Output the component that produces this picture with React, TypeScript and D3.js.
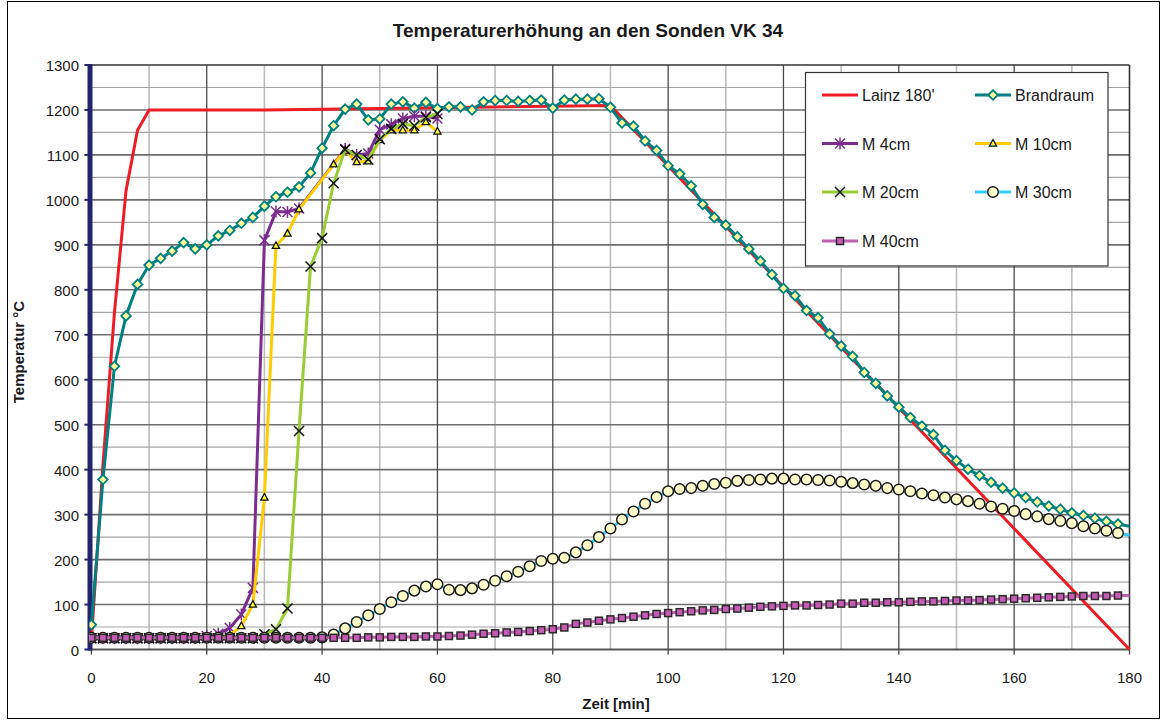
import React from "react";
import * as d3 from "d3";

const minutes = [0,2,4,6,8,10,12,14,16,18,20,22,24,26,28,30,32,34,36,38,40,42,44,46,48,50,52,54,56,58,60,62,64,66,68,70,72,74,76,78,80,82,84,86,88,90,92,94,96,98,100,102,104,106,108,110,112,114,116,118,120,122,124,126,128,130,132,134,136,138,140,142,144,146,148,150,152,154,156,158,160,162,164,166,168,170,172,174,176,178,180];

const lainzTime = [0, 2, 4, 6, 8, 10, 30, 60, 90, 180];
const lainzTemp = [20, 410, 750, 1020, 1155, 1200, 1200, 1205, 1210, 0];

const brandraum = [55,378,630,742,812,855,870,886,905,891,900,920,932,948,961,986,1007,1017,1029,1060,1115,1165,1202,1213,1178,1180,1213,1218,1204,1217,1203,1207,1207,1200,1218,1221,1221,1219,1221,1222,1204,1222,1224,1224,1225,1206,1171,1164,1131,1110,1076,1058,1031,990,961,944,918,891,864,834,803,787,754,738,702,675,652,616,592,564,539,516,497,478,443,420,401,387,372,359,348,338,328,319,312,304,298,292,285,279,274];

const m4 = [25,25,25,25,25,25,25,25,25,25,30,35,48,78,137,910,974,973,981,null,null,null,1113,1100,1103,1156,1168,1181,1186,1186,1181];
const m10 = [25,25,25,25,25,25,25,25,25,25,25,25,32,52,100,338,898,925,979,null,null,1079,1110,1084,1086,1133,1155,1155,1155,1173,1152];
const m20 = [25,25,25,25,25,25,25,25,25,25,25,25,25,25,25,34,45,91,486,852,915,1037,1112,1100,1090,1135,1158,1169,1165,1184,1191];
const m30 = [26,26,26,26,26,26,26,26,26,26,26,26,26,26,26,26,26,26,26,26,27,33,47,61,76,90,105,119,131,140,145,133,132,136,144,153,163,173,185,197,202,204,216,232,250,269,289,307,324,339,352,357,359,364,368,371,375,377,378,380,380,378,378,377,376,373,370,367,364,359,356,352,347,343,338,334,330,324,318,313,308,301,296,290,286,281,274,269,264,259,254];
const m40 = [26,26,26,26,26,26,26,26,26,26,26,26,26,26,26,26,26,26,26,26,26,26,26,26,27,27,28,28,28,29,29,30,31,33,35,36,38,39,41,43,45,49,57,60,64,67,70,73,76,79,81,83,85,87,88,90,91,93,95,96,97,98,98,99,100,102,102,104,104,105,105,106,107,107,108,109,109,110,111,112,113,114,115,116,117,118,119,119,119,120,120];

const xTicks = [0, 20, 40, 60, 80, 100, 120, 140, 160, 180];
const yTicks = [0, 100, 200, 300, 400, 500, 600, 700, 800, 900, 1000, 1100, 1200, 1300];

type Pt = { t: number; v: number };
const toPts = (times: number[], vals: (number | null)[]): Pt[] =>
  vals.map((v, i) => ({ t: times[i], v })).filter((p) => p.v !== null) as Pt[];

const W = 1162;
const H = 720;
const x = d3.scaleLinear().domain([0, 180]).range([91.4, 1129.5]);
const y = d3.scaleLinear().domain([0, 1300]).range([649.5, 65]);

const FONT = "Arial, 'Liberation Sans', sans-serif";

function Marker({ kind, cx, cy }: { kind: string; cx: number; cy: number }) {
  switch (kind) {
    case "diamond":
      return (
        <path d={`M${cx},${cy - 4.8}L${cx + 4.8},${cy}L${cx},${cy + 4.8}L${cx - 4.8},${cy}Z`} fill="#FFFF99" stroke="#008080" strokeWidth={1.8} />
      );
    case "asterisk":
      return (
        <g stroke="#7B2C8E" strokeWidth={1.5}>
          <line x1={cx - 5} y1={cy - 5} x2={cx + 5} y2={cy + 5} />
          <line x1={cx - 5} y1={cy + 5} x2={cx + 5} y2={cy - 5} />
          <line x1={cx} y1={cy - 6} x2={cx} y2={cy + 6} />
        </g>
      );
    case "triangle":
      return (
        <path d={`M${cx},${cy - 4}L${cx + 3.6},${cy + 2.6}L${cx - 3.6},${cy + 2.6}Z`} fill="#FFFF33" stroke="#111" strokeWidth={1.3} />
      );
    case "x":
      return (
        <g stroke="#111" strokeWidth={1.5}>
          <line x1={cx - 5} y1={cy - 5} x2={cx + 5} y2={cy + 5} />
          <line x1={cx - 5} y1={cy + 5} x2={cx + 5} y2={cy - 5} />
        </g>
      );
    case "circle":
      return <circle cx={cx} cy={cy} r={5.3} fill="#FFFFCC" stroke="#1a1a1a" strokeWidth={1.5} />;
    case "square":
      return <rect x={cx - 3.5} y={cy - 3.5} width={7} height={7} fill="#C45CB4" stroke="#2a2a2a" strokeWidth={1.5} />;
    default:
      return null;
  }
}

const series = [
  { name: "Lainz 180'", pts: toPts(lainzTime, lainzTemp), color: "#EE1C25", marker: "" },
  { name: "Brandraum", pts: toPts(minutes, brandraum), color: "#008080", marker: "diamond" },
  { name: "M 4cm", pts: toPts(minutes, m4), color: "#7B2C8E", marker: "asterisk" },
  { name: "M 10cm", pts: toPts(minutes, m10), color: "#FFCC00", marker: "triangle" },
  { name: "M 20cm", pts: toPts(minutes, m20), color: "#99CC33", marker: "x" },
  { name: "M 30cm", pts: toPts(minutes, m30), color: "#33CCFF", marker: "circle" },
  { name: "M 40cm", pts: toPts(minutes, m40), color: "#C060B0", marker: "square" },
];

const line = d3
  .line<Pt>()
  .x((d) => x(d.t))
  .y((d) => y(d.v));

export default function App() {
  const vMinor = d3.range(10, 180, 20);
  const vMajor = d3.range(20, 180, 20);
  const hMinor = d3.range(50, 1300, 100);
  const hMajor = d3.range(100, 1300, 100);
  const [x0, x1] = x.range();
  const [yb, yt] = y.range();

  const legendX = 805.5;
  const legendY = 72.5;
  const rows = [95, 143.5, 192, 241];
  const cols = [822, 975];

  return (
    <svg width={W} height={H} style={{ position: "absolute", left: 0, top: 0, background: "#fff" }} fontFamily={FONT}>
      <rect x={0} y={0} width={W} height={H} fill="#fff" />
      <rect x={7.5} y={1.5} width={1152} height={717} fill="none" stroke="#000" strokeWidth={1} />
      <text x={588} y={37} textAnchor="middle" fontSize={19} fontWeight="bold" fill="#1a1a1a">
        Temperaturerhöhung an den Sonden VK 34
      </text>

      {/* grid */}
      <g>
        {vMinor.map((t) => (
          <line key={"vm" + t} x1={x(t)} x2={x(t)} y1={yt} y2={yb} stroke="#BDBDBD" strokeWidth={1.6} />
        ))}
        {hMinor.map((v) => (
          <line key={"hm" + v} x1={x0} x2={x1} y1={y(v)} y2={y(v)} stroke="#A6A6A6" strokeWidth={1.2} />
        ))}
        {hMajor.map((v) => (
          <line key={"hM" + v} x1={x0} x2={x1} y1={y(v)} y2={y(v)} stroke="#6E6E6E" strokeWidth={1.6} />
        ))}
        {vMajor.map((t) => (
          <line key={"vM" + t} x1={x(t)} x2={x(t)} y1={yt} y2={yb} stroke="#4A4A4A" strokeWidth={1.3} />
        ))}
        <line x1={x0} x2={x1} y1={yt} y2={yt} stroke="#333" strokeWidth={1.6} />
        <line x1={x1} x2={x1} y1={yt} y2={yb} stroke="#333" strokeWidth={1.6} />
        <line x1={x0} x2={x1} y1={yb} y2={yb} stroke="#555" strokeWidth={2} />
        {xTicks.map((t) => (
          <line key={"xt" + t} x1={x(t)} x2={x(t)} y1={yb} y2={yb + 5} stroke="#444" strokeWidth={1.3} />
        ))}
      </g>

      {/* y axis */}
      <line x1={x0 - 1.4} x2={x0 - 1.4} y1={yt - 1} y2={yb + 1} stroke="#23236E" strokeWidth={5} />
      {yTicks.map((v) => (
        <line key={"yt" + v} x1={x0 - 7} x2={x0} y1={y(v)} y2={y(v)} stroke="#23236E" strokeWidth={2} />
      ))}
      {yTicks.map((v) => (
        <text key={"yl" + v} x={79} y={y(v) + 6} textAnchor="end" fontSize={15} fill="#1a1a1a">
          {v}
        </text>
      ))}
      {xTicks.map((t) => (
        <text key={"xl" + t} x={x(t)} y={683} textAnchor="middle" fontSize={15} fill="#1a1a1a">
          {t}
        </text>
      ))}
      <text x={616} y={709} textAnchor="middle" fontSize={15} fontWeight="bold" fill="#1a1a1a">
        Zeit [min]
      </text>
      <text transform="translate(24,352) rotate(-90)" textAnchor="middle" fontSize={15} fontWeight="bold" fill="#1a1a1a">
        Temperatur °C
      </text>

      <defs>
        <clipPath id="plotclip">
          <rect x={x0 - 2} y={yt - 10} width={x1 - x0 + 4} height={yb - yt + 12} />
        </clipPath>
      </defs>

      {/* series */}
      <g clipPath="url(#plotclip)">
        {series.map((s) => (
          <g key={s.name}>
            <path d={line(s.pts) || ""} fill="none" stroke={s.color} strokeWidth={3} strokeLinejoin="round" />
            {s.marker &&
              s.pts
                .filter((p) => p.t < 180)
                .map((p, i) => <Marker key={i} kind={s.marker} cx={x(p.t)} cy={y(p.v)} />)}
          </g>
        ))}
      </g>

      {/* legend */}
      <rect x={legendX} y={legendY} width={302.5} height={193.5} fill="#fff" stroke="#333" strokeWidth={1.2} />
      {series.map((s, i) => {
        const cx = cols[i % 2];
        const cy = rows[Math.floor(i / 2)];
        return (
          <g key={"lg" + s.name}>
            <line x1={cx} x2={cx + 36} y1={cy} y2={cy} stroke={s.color} strokeWidth={3.2} />
            {s.marker && <Marker kind={s.marker} cx={cx + 18} cy={cy} />}
            <text x={cx + 40} y={cy + 6} fontSize={16} fill="#1a1a1a">
              {s.name}
            </text>
          </g>
        );
      })}
    </svg>
  );
}
